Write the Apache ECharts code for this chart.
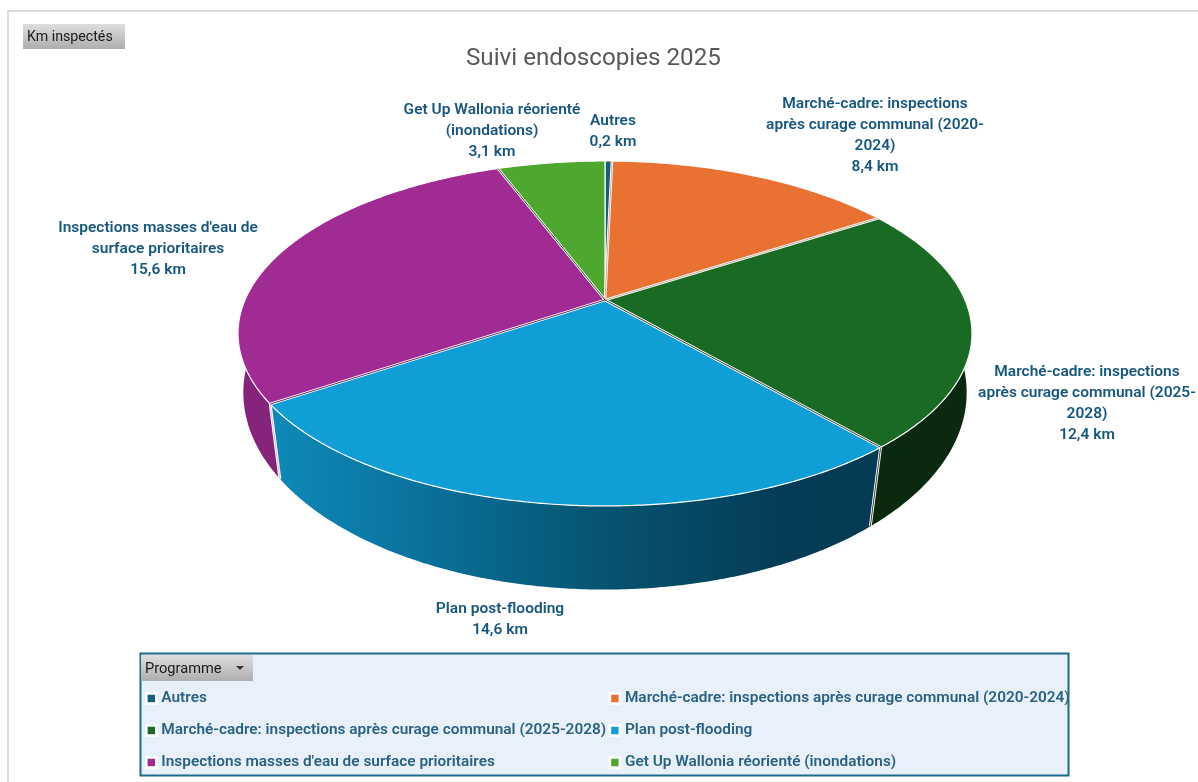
<!DOCTYPE html>
<html>
<head>
<meta charset="utf-8">
<title>Suivi endoscopies 2025</title>
<style>
  html, body { margin: 0; padding: 0; background: #fff; }
  #chart { width: 1198px; height: 782px; }
</style>
<script src="https://cdn.jsdelivr.net/npm/echarts@6/dist/echarts.min.js"></script>
</head>
<body>
<div id="chart"></div>
<script>
// data (km)
const categories = [
  "Autres",
  "Marché-cadre: inspections après curage communal (2020-2024)",
  "Marché-cadre: inspections après curage communal (2025-2028)",
  "Plan post-flooding",
  "Inspections masses d'eau de surface prioritaires",
  "Get Up Wallonia réorienté (inondations)"
];
const values = [0.2, 8.4, 12.4, 14.6, 15.6, 3.1];
// the same names, wrapped the way the labels are
const labelNames = [
  "Autres",
  "Marché-cadre: inspections\naprès curage communal (2020-\n2024)",
  "Marché-cadre: inspections\naprès curage communal (2025-\n2028)",
  "Plan post-flooding",
  "Inspections masses d'eau de\nsurface prioritaires",
  "Get Up Wallonia réorienté\n(inondations)"
];

const colors = ["#156082", "#E97132", "#196B24", "#0F9ED5", "#A02B93", "#4EA72E"];
const wallFills = ["#0d3c51", "#8c441e", "#0b290e", "#0F9ED5", "#86247b", "#2e641c"];
const edgeTints = ["#e8eef2", "#cfa58e", "#c9a58f", "#20302a", "#5a1952", "#1f3a1a"];
const sideTints = ["#fff", "#fff", "#fff", "#20302a", "#d9b8d6", "#fff"];
const labelX = [613, 875, 1087, 500, 158, 492];
const labelY = [111, 94, 362, 599, 218, 100];

const FONT = "Roboto, 'Noto Sans', sans-serif";
const TEXT_BLUE = "#17577f";

// rings of the tilted disc, front is bigger than back so there is a bit of perspective
const topRing = { cx: 605, cy: 300, rx: 360, ry: 166, k: 0.194 };
const bottomRing = { cx: 605, cy: 361, rx: 357, ry: 192, k: 0.16 };

function ringPoint(ring, deg) {
  const a = (deg * Math.PI) / 180;
  const u = Math.sin(a);
  const v = -Math.cos(a);
  const s = 1 / (1 - ring.k * v);
  return [ring.cx + ring.rx * u * s, ring.cy + ring.ry * v * s];
}

function arcPoints(ring, from, to) {
  const pts = [];
  const steps = Math.max(2, Math.ceil(Math.abs(to - from) * 2));
  for (let i = 0; i <= steps; i++) {
    pts.push(ringPoint(ring, from + ((to - from) * i) / steps));
  }
  return pts;
}

function kmText(v) {
  return v.toFixed(1).replace(".", ",") + " km";
}

const total = values.reduce((a, b) => a + b, 0);

function renderSlice(params, api) {
  const i = params.seriesIndex;
  let before = 0;
  for (let j = 0; j < i; j++) before += values[j];
  const start = (before / total) * 360;
  const end = ((before + api.value(0)) / total) * 360;
  const children = [];

  // side wall, only the part facing us, the top face hides the rest
  const wFrom = Math.max(start, 75);
  const wTo = Math.min(end, 285);
  if (wTo > wFrom) {
    const wall = arcPoints(topRing, wFrom, wTo).concat(arcPoints(bottomRing, wTo, wFrom));
    let fill = wallFills[i];
    if (i === 3) {
      fill = new echarts.graphic.LinearGradient(0, 0, 1, 0, [
        { offset: 0, color: "#0e89b8" },
        { offset: 0.2, color: "#0a76a2" },
        { offset: 0.55, color: "#06536f" },
        { offset: 0.85, color: "#053b56" },
        { offset: 1, color: "#053a54" }
      ]);
    }
    children.push({ type: "polygon", z2: 1, shape: { points: wall }, style: { fill: fill } });
  }

  // top face
  const face = [[topRing.cx, topRing.cy]].concat(arcPoints(topRing, start, end));
  children.push({
    type: "polygon",
    z2: 10,
    shape: { points: face },
    style: { fill: colors[i], stroke: "#fff", lineWidth: 1.2, lineJoin: "round" }
  });

  // slice edge: white with a thin dark line in it
  const rim = ringPoint(topRing, start);
  if (i > 0) {
    const edge = { x1: topRing.cx, y1: topRing.cy, x2: rim[0], y2: rim[1] };
    children.push({ type: "line", z2: 20, shape: edge, style: { stroke: "#fff", lineWidth: 2.6 } });
    children.push({ type: "line", z2: 21, shape: edge, style: { stroke: edgeTints[i], lineWidth: 0.9 } });
  }
  if (start > 75 && start < 285) {
    const low = ringPoint(bottomRing, start);
    const side = { x1: rim[0], y1: rim[1], x2: low[0], y2: low[1] };
    children.push({ type: "line", z2: 5, shape: side, style: { stroke: "#fff", lineWidth: 2.8 } });
    children.push({ type: "line", z2: 6, shape: side, style: { stroke: sideTints[i], lineWidth: 0.9 } });
  }

  // data label
  children.push({
    type: "text",
    z2: 30,
    style: {
      text: labelNames[i] + "\n" + kmText(api.value(0)),
      x: labelX[i],
      y: labelY[i],
      align: "center",
      verticalAlign: "top",
      lineHeight: 21,
      fill: TEXT_BLUE,
      fontFamily: FONT,
      fontSize: 15.5,
      fontWeight: 600
    }
  });
  return { type: "group", children: children };
}

function greyButton(x, y, w, h, text, size) {
  return [
    {
      type: "rect",
      shape: { x: x, y: y, width: w, height: h },
      style: {
        fill: new echarts.graphic.LinearGradient(0, 0, 0, 1, [
          { offset: 0, color: "#dedede" },
          { offset: 1, color: "#aeaeae" }
        ])
      }
    },
    {
      type: "text",
      style: {
        text: text,
        x: x + 4,
        y: y + h / 2 + 1,
        verticalAlign: "middle",
        fill: "#1a1a1a",
        fontFamily: FONT,
        fontSize: size
      }
    }
  ];
}

const legendStyle = {
  orient: "vertical",
  selectedMode: false,
  icon: "rect",
  itemWidth: 10,
  itemHeight: 10,
  itemGap: 17,
  padding: 0,
  itemStyle: { borderColor: "#fff", borderWidth: 2.6 },
  textStyle: { color: "#2b6283", fontFamily: FONT, fontSize: 15.4, fontWeight: 600 }
};

const chart = echarts.init(document.getElementById("chart"), null, { renderer: "canvas" });
chart.setOption({
  animation: false,
  backgroundColor: "#fff",
  color: colors,
  title: {
    text: "Suivi endoscopies 2025",
    left: 466,
    top: 47,
    padding: 0,
    textStyle: { color: "#595959", fontFamily: FONT, fontSize: 24.2, fontWeight: 400 }
  },
  legend: [
    Object.assign({}, legendStyle, { left: 145, top: 691, data: [categories[0], categories[2], categories[4]] }),
    Object.assign({}, legendStyle, { left: 608.6, top: 691, data: [categories[1], categories[3], categories[5]] })
  ],
  graphic: [
    // frame of the sheet, open on the right and at the bottom
    { type: "line", shape: { x1: 7, y1: 11, x2: 1198, y2: 11 }, style: { stroke: "#dcdcdc", lineWidth: 2 } },
    { type: "line", shape: { x1: 8, y1: 11, x2: 8, y2: 782 }, style: { stroke: "#dcdcdc", lineWidth: 2 } },
    // legend box
    {
      type: "rect",
      z: -1,
      shape: { x: 140.5, y: 653.5, width: 928, height: 122 },
      style: { fill: "#e8f1f9", stroke: "#1c6a8c", lineWidth: 2 }
    },
    ...greyButton(23, 24, 102, 25, "Km inspectés", 14.2),
    ...greyButton(141, 655, 112, 26, "Programme", 14.6),
    { type: "polygon", shape: { points: [[236, 666], [244, 666], [240, 670]] }, style: { fill: "#333" } }
  ],
  series: categories.map((name, i) => ({
    type: "custom",
    name: name,
    coordinateSystem: "none",
    silent: true,
    clip: false,
    renderItem: renderSlice,
    data: [[values[i]]]
  }))
});
</script>
</body>
</html>
